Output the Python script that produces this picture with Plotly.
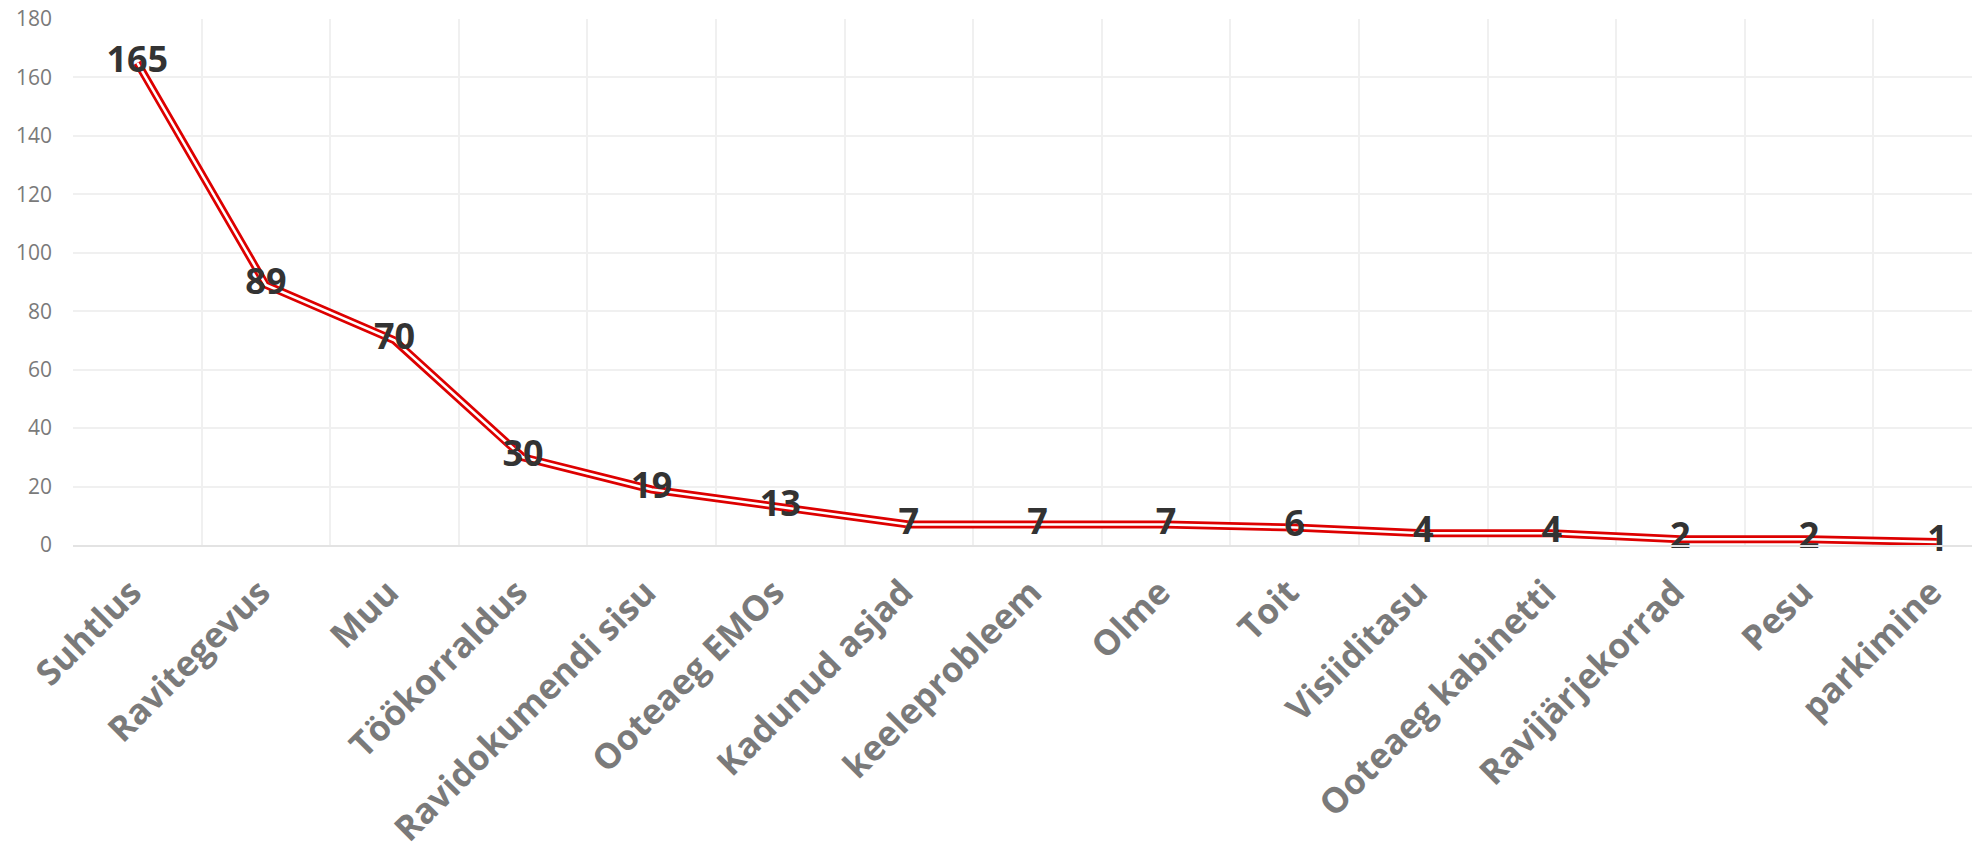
import plotly.graph_objects as go

categories = ["Suhtlus", "Ravitegevus", "Muu", "Töökorraldus", "Ravidokumendi sisu",
              "Ooteaeg EMOs", "Kadunud asjad", "keeleprobleem", "Olme", "Toit",
              "Visiiditasu", "Ooteaeg kabinetti", "Ravijärjekorrad", "Pesu", "parkimine"]
values = [165, 89, 70, 30, 19, 13, 7, 7, 7, 6, 4, 4, 2, 2, 1]
y_ticks = [0, 20, 40, 60, 80, 100, 120, 140, 160, 180]

FONT = "Open Sans"

fig = go.Figure()
fig.add_trace(go.Scatter(x=categories, y=values, mode="lines",
                         line=dict(color="#DD0000", width=8), hoverinfo="skip",
                         showlegend=False))
fig.add_trace(go.Scatter(x=categories, y=values, mode="lines",
                         line=dict(color="white", width=2.5), hoverinfo="skip",
                         showlegend=False))
fig.add_trace(go.Scatter(x=categories, y=values, mode="text",
                         text=[str(v) for v in values], textposition="middle center",
                         textfont=dict(family=FONT, size=36, color="#333333", weight="bold"),
                         showlegend=False, cliponaxis=False))

fig.update_layout(
    width=1972, height=843,
    margin=dict(l=65, r=0, t=11, b=306),
    paper_bgcolor="white", plot_bgcolor="white",
    showlegend=False,
)
fig.update_xaxes(
    type="category", range=[-0.5, 14.33], tickson="boundaries",
    showgrid=True, gridcolor="#F0F0F0", gridwidth=1.5,
    showline=True, linecolor="#E3E3E3", linewidth=1.5,
    ticks="", tickangle=-45, ticklabelstandoff=11, ticklabelshift=-6,
    tickfont=dict(family=FONT, size=35, color="#7A7A7A", weight="bold"),
    zeroline=False, automargin=False, ticklabeloverflow="allow",
)
fig.update_yaxes(
    range=[0, 180], tickvals=y_ticks, ticktext=[str(t) for t in y_ticks],
    showgrid=True, gridcolor="#F0F0F0", gridwidth=1.5,
    zeroline=False, showline=False, ticks="", ticklabelstandoff=20,
    tickfont=dict(family=FONT, size=21, color="#7A7A7A"),
    automargin=False, ticklabeloverflow="allow",
)

fig.write_html("out.html")
